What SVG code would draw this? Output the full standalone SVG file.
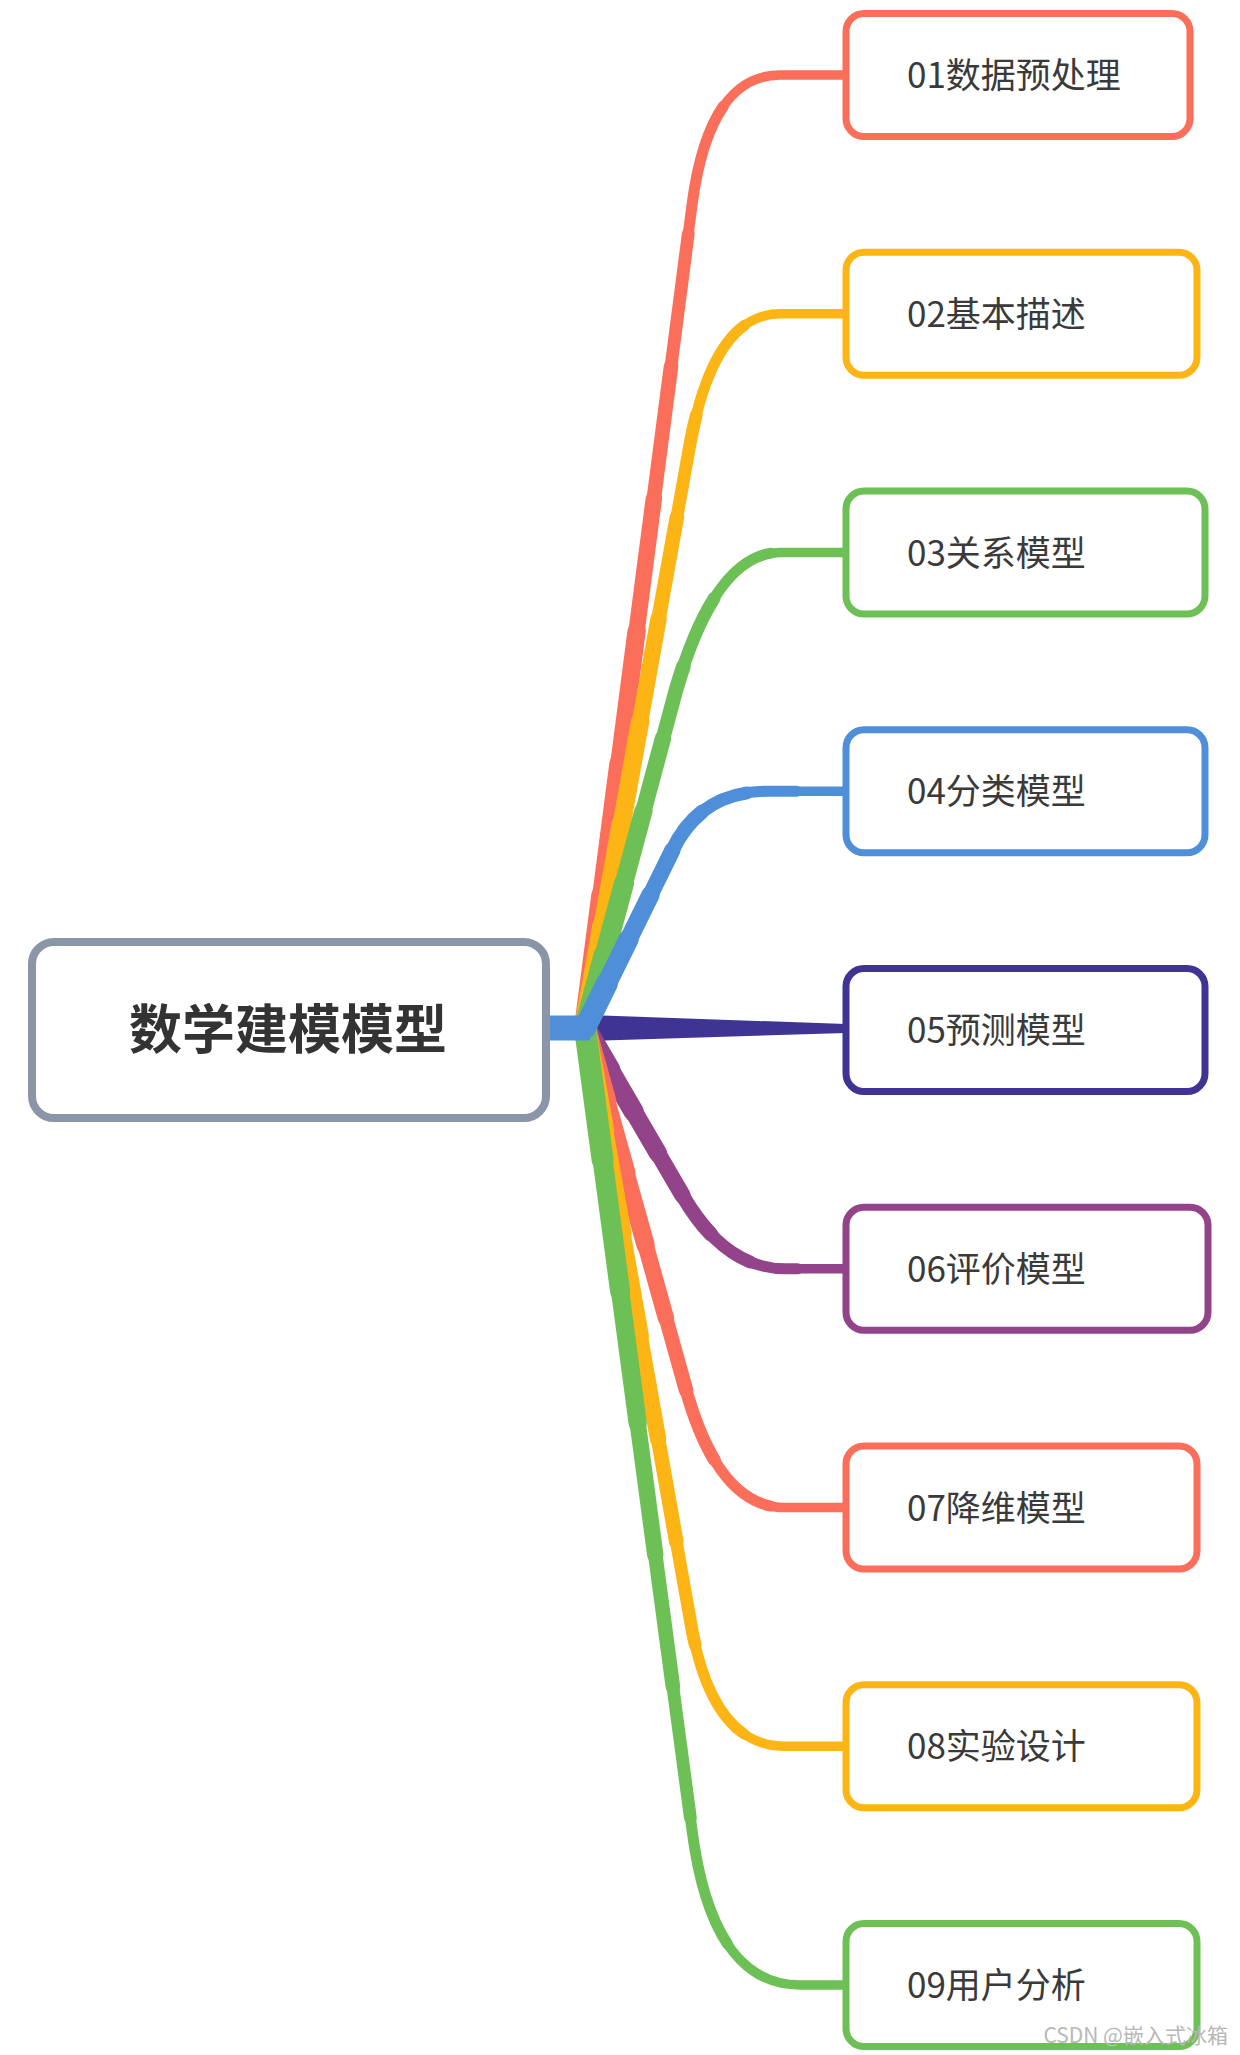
<svg xmlns="http://www.w3.org/2000/svg" xmlns:xlink="http://www.w3.org/1999/xlink" width="1240" height="2055" viewBox="0 0 1240 2055">
<style>
.box{fill:#ffffff;stroke-width:7}
.root{fill:#ffffff;stroke:#8a95a8;stroke-width:8}
.lbl{font-family:"Noto Sans CJK SC","Noto Sans",sans-serif;font-size:35px;fill:#3a3a3a}
.rootlbl{font-family:"Noto Sans CJK SC","Noto Sans",sans-serif;font-size:53px;font-weight:bold;fill:#333333}
.wm{font-family:"Noto Sans CJK SC","Liberation Sans",sans-serif;font-size:21px;fill:#b8b8b8}
.br{fill:none;stroke-linecap:round;stroke-linejoin:round}
.s1{stroke-width:9.5;stroke-linecap:butt}
.s2{stroke-width:11;stroke-dasharray:87.5 1000}
.s3{stroke-width:12.8;stroke-dasharray:75 1000}
.s4{stroke-width:14.6;stroke-dasharray:62.5 1000}
.s5{stroke-width:16.4;stroke-dasharray:50 1000}
.s6{stroke-width:18.3;stroke-dasharray:37.5 1000}
.s7{stroke-width:20.1;stroke-dasharray:25 1000}
.s8{stroke-width:22;stroke-dasharray:12.5 1000}
.red{stroke:#fa6e5a}
.amber{stroke:#fdb515}
.green{stroke:#6cc055}
.blue{stroke:#4f8fda}
.purple{stroke:#934389}
</style>
<defs>
<path id="p01" pathLength="100" d="M 585 1028 L 692 205 Q 709 75 780 75 L 846 75"/>
<path id="p02" pathLength="100" d="M 585 1028 L 690 444 Q 714 313.75 780 313.75 L 846 313.75"/>
<path id="p03" pathLength="100" d="M 585 1028 L 676 690 Q 716 552.5 780 552.5 L 846 552.5"/>
<path id="p04" pathLength="100" d="M 585 1028 L 672 851 Q 700 791.25 768 791.25 L 846 791.25"/>
<path id="p06" pathLength="100" d="M 585 1028 L 684 1198 Q 726 1268.75 785 1268.75 L 846 1268.75"/>
<path id="p07" pathLength="100" d="M 585 1028 L 686 1390 Q 719 1507.5 785 1507.5 L 846 1507.5"/>
<path id="p08" pathLength="100" d="M 585 1028 L 692 1630 Q 714 1746.25 785 1746.25 L 846 1746.25"/>
<path id="p09" pathLength="100" d="M 585 1028 L 692 1830 Q 712 1985 800 1985 L 846 1985"/>
</defs>
<rect x="0" y="0" width="1240" height="2055" fill="#ffffff"/>
<g id="connectors">
<g class="br red"><use xlink:href="#p01" class="s1"/><use xlink:href="#p01" class="s2"/><use xlink:href="#p01" class="s3"/><use xlink:href="#p01" class="s4"/><use xlink:href="#p01" class="s5"/><use xlink:href="#p01" class="s6"/><use xlink:href="#p01" class="s7"/><use xlink:href="#p01" class="s8"/></g>
<g class="br amber"><use xlink:href="#p02" class="s1"/><use xlink:href="#p02" class="s2"/><use xlink:href="#p02" class="s3"/><use xlink:href="#p02" class="s4"/><use xlink:href="#p02" class="s5"/><use xlink:href="#p02" class="s6"/><use xlink:href="#p02" class="s7"/><use xlink:href="#p02" class="s8"/></g>
<g class="br green"><use xlink:href="#p03" class="s1"/><use xlink:href="#p03" class="s2"/><use xlink:href="#p03" class="s3"/><use xlink:href="#p03" class="s4"/><use xlink:href="#p03" class="s5"/><use xlink:href="#p03" class="s6"/><use xlink:href="#p03" class="s7"/><use xlink:href="#p03" class="s8"/></g>
<polygon points="588,1015 846,1024 846,1033 588,1041" fill="#3f3494"/>
<g class="br purple"><use xlink:href="#p06" class="s1"/><use xlink:href="#p06" class="s2"/><use xlink:href="#p06" class="s3"/><use xlink:href="#p06" class="s4"/><use xlink:href="#p06" class="s5"/><use xlink:href="#p06" class="s6"/><use xlink:href="#p06" class="s7"/><use xlink:href="#p06" class="s8"/></g>
<g class="br red"><use xlink:href="#p07" class="s1"/><use xlink:href="#p07" class="s2"/><use xlink:href="#p07" class="s3"/><use xlink:href="#p07" class="s4"/><use xlink:href="#p07" class="s5"/><use xlink:href="#p07" class="s6"/><use xlink:href="#p07" class="s7"/><use xlink:href="#p07" class="s8"/></g>
<g class="br amber"><use xlink:href="#p08" class="s1"/><use xlink:href="#p08" class="s2"/><use xlink:href="#p08" class="s3"/><use xlink:href="#p08" class="s4"/><use xlink:href="#p08" class="s5"/><use xlink:href="#p08" class="s6"/><use xlink:href="#p08" class="s7"/><use xlink:href="#p08" class="s8"/></g>
<g class="br green"><use xlink:href="#p09" class="s1"/><use xlink:href="#p09" class="s2"/><use xlink:href="#p09" class="s3"/><use xlink:href="#p09" class="s4"/><use xlink:href="#p09" class="s5"/><use xlink:href="#p09" class="s6"/><use xlink:href="#p09" class="s7"/><use xlink:href="#p09" class="s8"/></g>
<g class="br blue"><use xlink:href="#p04" class="s1"/><use xlink:href="#p04" class="s2"/><use xlink:href="#p04" class="s3"/><use xlink:href="#p04" class="s4"/><use xlink:href="#p04" class="s5"/><use xlink:href="#p04" class="s6"/><use xlink:href="#p04" class="s7"/><use xlink:href="#p04" class="s8"/></g>
<rect x="546" y="1015.5" width="44" height="25" fill="#4f8fda"/>
</g>
<g id="root">
<rect class="root" x="32" y="942" width="514" height="176" rx="22"/>
<text class="rootlbl" x="288" y="1049" text-anchor="middle">数学建模模型</text>
</g>
<g id="n01">
<rect class="box" stroke="#fa6e5a" x="846" y="13.5" width="344" height="123" rx="18"/>
<text class="lbl" x="907" y="88">01数据预处理</text>
</g>
<g id="n02">
<rect class="box" stroke="#fdb515" x="846" y="252.25" width="351" height="123" rx="18"/>
<text class="lbl" x="907" y="326.75">02基本描述</text>
</g>
<g id="n03">
<rect class="box" stroke="#6cc055" x="846" y="491" width="359" height="123" rx="18"/>
<text class="lbl" x="907" y="565.5">03关系模型</text>
</g>
<g id="n04">
<rect class="box" stroke="#4f8fda" x="846" y="729.75" width="359" height="123" rx="18"/>
<text class="lbl" x="907" y="804.25">04分类模型</text>
</g>
<g id="n05">
<rect class="box" stroke="#3f3494" x="846" y="968.5" width="359" height="123" rx="18"/>
<text class="lbl" x="907" y="1043">05预测模型</text>
</g>
<g id="n06">
<rect class="box" stroke="#934389" x="846" y="1207.25" width="362" height="123" rx="18"/>
<text class="lbl" x="907" y="1281.75">06评价模型</text>
</g>
<g id="n07">
<rect class="box" stroke="#fa6e5a" x="846" y="1446" width="351" height="123" rx="18"/>
<text class="lbl" x="907" y="1520.5">07降维模型</text>
</g>
<g id="n08">
<rect class="box" stroke="#fdb515" x="846" y="1684.75" width="351" height="123" rx="18"/>
<text class="lbl" x="907" y="1759.25">08实验设计</text>
</g>
<g id="n09">
<rect class="box" stroke="#6cc055" x="846" y="1923.5" width="351" height="123" rx="18"/>
<text class="lbl" x="907" y="1998">09用户分析</text>
</g>
<text class="wm" x="1228" y="2043" text-anchor="end">CSDN @嵌入式冰箱</text>
</svg>
